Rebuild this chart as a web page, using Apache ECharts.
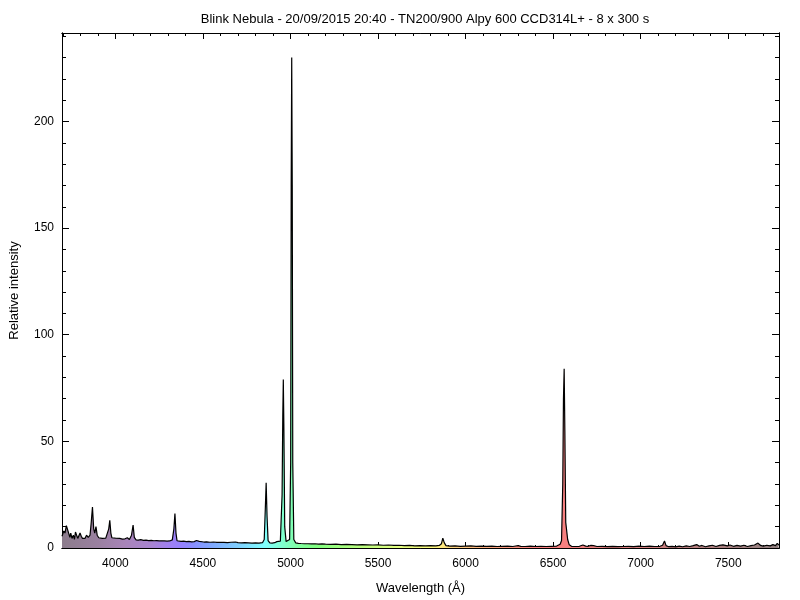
<!DOCTYPE html>
<html>
<head>
<meta charset="utf-8">
<script src="https://cdn.jsdelivr.net/npm/echarts@6/dist/echarts.min.js"></script>
<style>html,body{margin:0;padding:0;background:#fff;}#c{width:800px;height:600px;}</style>
</head>
<body>
<div id="c"></div>
<script>
// ---- data ----
const titleText = "Blink Nebula - 20/09/2015 20:40 - TN200/900 Alpy 600 CCD314L+ - 8 x 300 s";
const xName = "Wavelength (Å)";
const yName = "Relative intensity";
const xMin = 3695, xMax = 7790;
const yMin = 0, yMax = 241.5;
const xMajorTicks = [4000, 4500, 5000, 5500, 6000, 6500, 7000, 7500];
const xMinorTicks = [3700,3800,3900,4000,4100,4200,4300,4400,4500,4600,4700,4800,4900,5000,5100,5200,5300,5400,5500,5600,5700,5800,5900,6000,6100,6200,6300,6400,6500,6600,6700,6800,6900,7000,7100,7200,7300,7400,7500,7600,7700];
const yMajorTicks = [0, 50, 100, 150, 200];
const yMinorTicks = [0,10,20,30,40,50,60,70,80,90,100,110,120,130,140,150,160,170,180,190,200,210,220,230,240];

const wavelengths = [
3695,3705,3712,3720,3726,3733,3740,3745,3752,3760,3766,3772,3778,3785,3792,3798,3805,3812,3820,3826,3835,3845,3855,
3862,3869,3876,3882,3889,3896,3905,3915,3925,3935,3945,3955,3962,3968,3974,3980,3990,4000,4010,4025,4040,4055,4068,
4080,4092,4101,4108,4118,4130,4145,4160,4175,4190,4205,4220,4235,4250,4265,4280,4295,4310,4325,4334,4340,4346,4352,
4363,4375,4390,4405,4420,4435,4450,4463,4471,4479,4490,4505,4520,4540,4560,4580,4600,4620,4640,4660,4686,4700,4720,
4740,4760,4780,4800,4820,4840,4850,4856,4861,4866,4872,4882,4895,4910,4922,4932,4942,4952,4956,4959,4962,4967,4975,
4985,4995,5001,5004,5007,5010,5013,5019,5030,5045,5060,5080,5100,5120,5140,5160,5180,5200,5230,5260,5290,5320,5350,
5380,5410,5440,5470,5500,5530,5560,5590,5620,5650,5680,5710,5740,5770,5800,5830,5850,5862,5870,5878,5888,5910,5940,
5970,6000,6030,6060,6090,6120,6150,6180,6210,6240,6270,6300,6315,6340,6370,6400,6430,6460,6490,6520,6540,6548,6555,
6559,6563,6567,6572,6583,6592,6605,6630,6650,6670,6678,6686,6700,6716,6731,6750,6780,6810,6840,6870,6900,6930,6960,
6990,7020,7050,7080,7110,7125,7136,7145,7160,7180,7200,7220,7240,7260,7280,7300,7320,7335,7350,7370,7390,7410,7430,
7450,7470,7480,7495,7510,7530,7550,7570,7590,7610,7630,7650,7670,7685,7700,7720,7740,7755,7770,7780,7790
];
const intensity = [
5.5,8,7,10.5,11,7,5,7,4.5,6,4,7.5,8,4.5,5,7,5.5,4.5,5,4.5,6,5,6,
12,19.2,9,7,10,6,4.8,5,4.5,5,4.6,5.5,9,13,7,4.8,4.5,4.6,4.3,4.5,4.2,4.3,4.8,
4,6,10.8,5,3.8,3.7,3.9,3.6,3.7,3.5,3.6,3.4,3.5,3.3,3.4,3.3,3.2,3.3,3.8,9,16.2,7,3.4,
3.6,3.1,3.2,3,3.1,2.9,3,3.5,4.3,3.1,2.9,2.8,2.9,2.7,2.8,2.6,2.7,2.6,2.5,2.7,2.8,2.5,2.4,
2.5,2.4,2.3,2.4,2.3,2.5,4,18,30.6,15,3.5,2.4,2.3,2.5,3,2.6,3.2,25,62,79,58,10,3,
2.6,4,40,170,230,170,40,4,2.4,2.2,2.1,2.0,2.0,1.9,2.0,1.8,1.9,1.8,1.7,1.8,1.6,1.7,1.6,
1.5,1.6,1.5,1.4,1.5,1.3,1.4,1.2,1.3,1.1,1.2,1.0,1.1,1.0,1.1,1.0,1.2,2,4.6,2.5,1.1,0.9,1.0,
0.8,0.9,1.0,0.8,0.9,0.8,0.9,0.7,0.8,0.9,0.7,1.1,0.8,0.7,0.9,0.7,0.8,0.7,0.8,0.9,1.8,3.5,30,
70,84,55,12,4,1.5,0.8,0.7,0.8,1.4,2.1,0.9,0.8,1.2,1.1,0.7,0.8,0.6,0.8,0.6,0.7,0.8,0.6,
0.9,0.7,0.9,0.7,0.8,1.3,3.3,1.1,0.6,0.8,0.5,0.9,0.6,1.0,0.7,1.1,1.6,0.8,1.2,0.6,1.0,1.3,0.7,
1.2,1.5,1.9,1.0,1.4,0.8,1.2,0.9,1.3,0.7,1.1,1.4,2.3,1.2,0.9,1.3,1.0,1.6,1.1,2.2,1.3
];

// fill colour along the wavelength axis
const colorWavelengths = [3695,3900,4050,4200,4300,4380,4450,4550,4700,4850,4950,5050,5150,5350,5600,5800,5950,6150,6400,6700,7000,7300,7790];
const colorValues = ['#8c7c8c','#9a80a0','#a884b8','#a884d0','#a080f0','#9480ff','#8890ff','#80a8ff','#80d0ff','#80ffff','#80ffd0','#80ffa0','#80ff80','#b0ff80','#e0ff80','#ffff80','#ffd080','#ffa880','#ff8080','#f08080','#d88080','#b88080','#908080'];

const seriesData = wavelengths.map((w, i) => [w, intensity[i]]);
const stops = colorWavelengths.map((w, i) => ({offset: (w - xMin) / (xMax - xMin), color: colorValues[i]}));

const chart = echarts.init(document.getElementById('c'), null, {renderer: 'canvas'});
const FONT = 'Liberation Sans';
const lineStyle = {color: '#000', width: 1};
const plain = v => String(v);

function xAxisDef(pos, ticks, len, showLabel, name) {
  return {
    type: 'value', position: pos, min: xMin, max: xMax,
    axisLine: {show: true, onZero: false, lineStyle},
    axisTick: {show: true, inside: true, length: len, lineStyle, customValues: ticks},
    axisLabel: showLabel ? {show: true, customValues: xMajorTicks, formatter: plain, color: '#000', fontFamily: FONT, fontSize: 12, margin: 10} : {show: false},
    splitLine: {show: false},
    name: name || '', nameLocation: 'middle', nameGap: 34,
    nameTextStyle: {color: '#000', fontFamily: FONT, fontSize: 13}
  };
}
function yAxisDef(pos, ticks, len, showLabel, name) {
  return {
    type: 'value', position: pos, min: yMin, max: yMax,
    axisLine: {show: true, onZero: false, lineStyle},
    axisTick: {show: true, inside: true, length: len, lineStyle, customValues: ticks},
    axisLabel: showLabel ? {show: true, customValues: yMajorTicks, formatter: plain, color: '#000', fontFamily: FONT, fontSize: 12, margin: 8} : {show: false},
    splitLine: {show: false},
    name: name || '', nameLocation: 'middle', nameGap: 41, nameRotate: 90,
    nameTextStyle: {color: '#000', fontFamily: FONT, fontSize: 13}
  };
}

chart.setOption({
  animation: false,
  backgroundColor: '#fff',
  title: {
    text: titleText, left: 420, top: 8, textAlign: 'center',
    textStyle: {color: '#000', fontFamily: FONT, fontSize: 13, fontWeight: 'normal'}
  },
  grid: {left: 61, right: 21, top: 33, bottom: 51, containLabel: false},
  xAxis: [
    xAxisDef('bottom', xMajorTicks, 6, true, xName),
    xAxisDef('bottom', xMinorTicks, 3, false),
    xAxisDef('top', xMajorTicks, 6, false),
    xAxisDef('top', xMinorTicks, 3, false)
  ],
  yAxis: [
    yAxisDef('left', yMajorTicks, 7, true, yName),
    yAxisDef('left', yMinorTicks, 4, false),
    yAxisDef('right', yMajorTicks, 7, false),
    yAxisDef('right', yMinorTicks, 4, false)
  ],
  series: [{
    type: 'line', xAxisIndex: 0, yAxisIndex: 0,
    data: seriesData, showSymbol: false, symbol: 'none',
    lineStyle: {color: '#000', width: 1.2},
    areaStyle: {opacity: 1, color: new echarts.graphic.LinearGradient(0, 0, 1, 0, stops)},
    z: 1
  }]
});
</script>
</body>
</html>
